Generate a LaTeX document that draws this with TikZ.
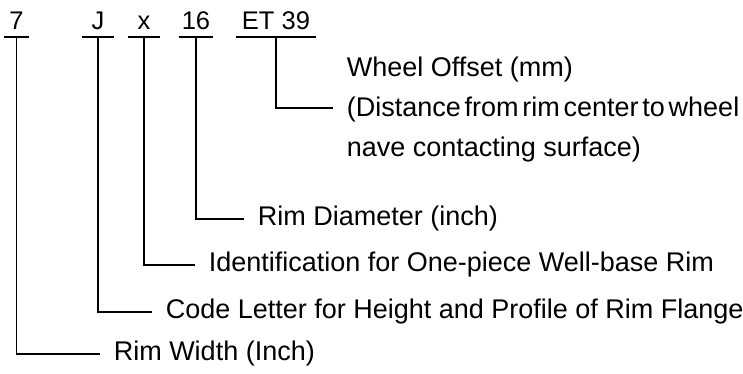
\documentclass[tikz,border=0pt]{standalone}
\usepackage{fontspec}
\setmainfont{Liberation Sans}
\begin{document}
\begin{tikzpicture}[x=1pt,y=-1pt,line width=1.6pt,line cap=butt,
	code/.style={inner xsep=0pt,inner ysep=7pt,text depth=0pt,anchor=south,font=\fontsize{25.5}{30}\selectfont},
	desc/.style={inner xsep=13pt,inner ysep=0pt,text height=19pt,text depth=5.5pt,anchor=west,font=\fontsize{27}{32}\selectfont}]
			\useasboundingbox (0,0) rectangle (743,374);
			\node[code,minimum width=23pt] (cw) at (16.5,37) {7};
			\node[code,minimum width=30pt] (cj) at (98,37) {J};
			\node[code,minimum width=31pt] (cx) at (144,37) {x};
			\node[code,minimum width=33pt] (cd) at (196,37) {16};
			\node[code,minimum width=79pt] (ce) at (276,37) {ET 39};
			\foreach \c in {cw,cj,cx,cd,ce}
				\draw (\c.south west) -- (\c.south east);
			\node[desc,anchor=base west] (off1) at (333,77) {Wheel Offset (mm)};
			\node[desc,anchor=base west] (off2) at (333,117) {\spaceskip=0.14em (Distance from rim center to wheel};
			\node[desc,anchor=base west] (off3) at (333,157) {nave contacting surface)};
			\coordinate (offin) at (333,108);
			\node[desc] (dd) at (244,219) {Rim Diameter (inch)};
			\node[desc] (dx) at (195,265) {Identification for One-piece Well-base Rim};
			\node[desc] (dj) at (152,312) {Code Letter for Height and Profile of Rim Flange};
			\node[desc] (dw) at (100,354) {Rim Width (Inch)};
			\draw (ce.south) |- (offin);
			\draw (cd.south) |- (dd.west);
			\draw (cx.south) |- (dx.west);
			\draw (cj.south) |- (dj.west);
			\draw (cw.south) |- (dw.west);
		\end{tikzpicture}
\end{document}
